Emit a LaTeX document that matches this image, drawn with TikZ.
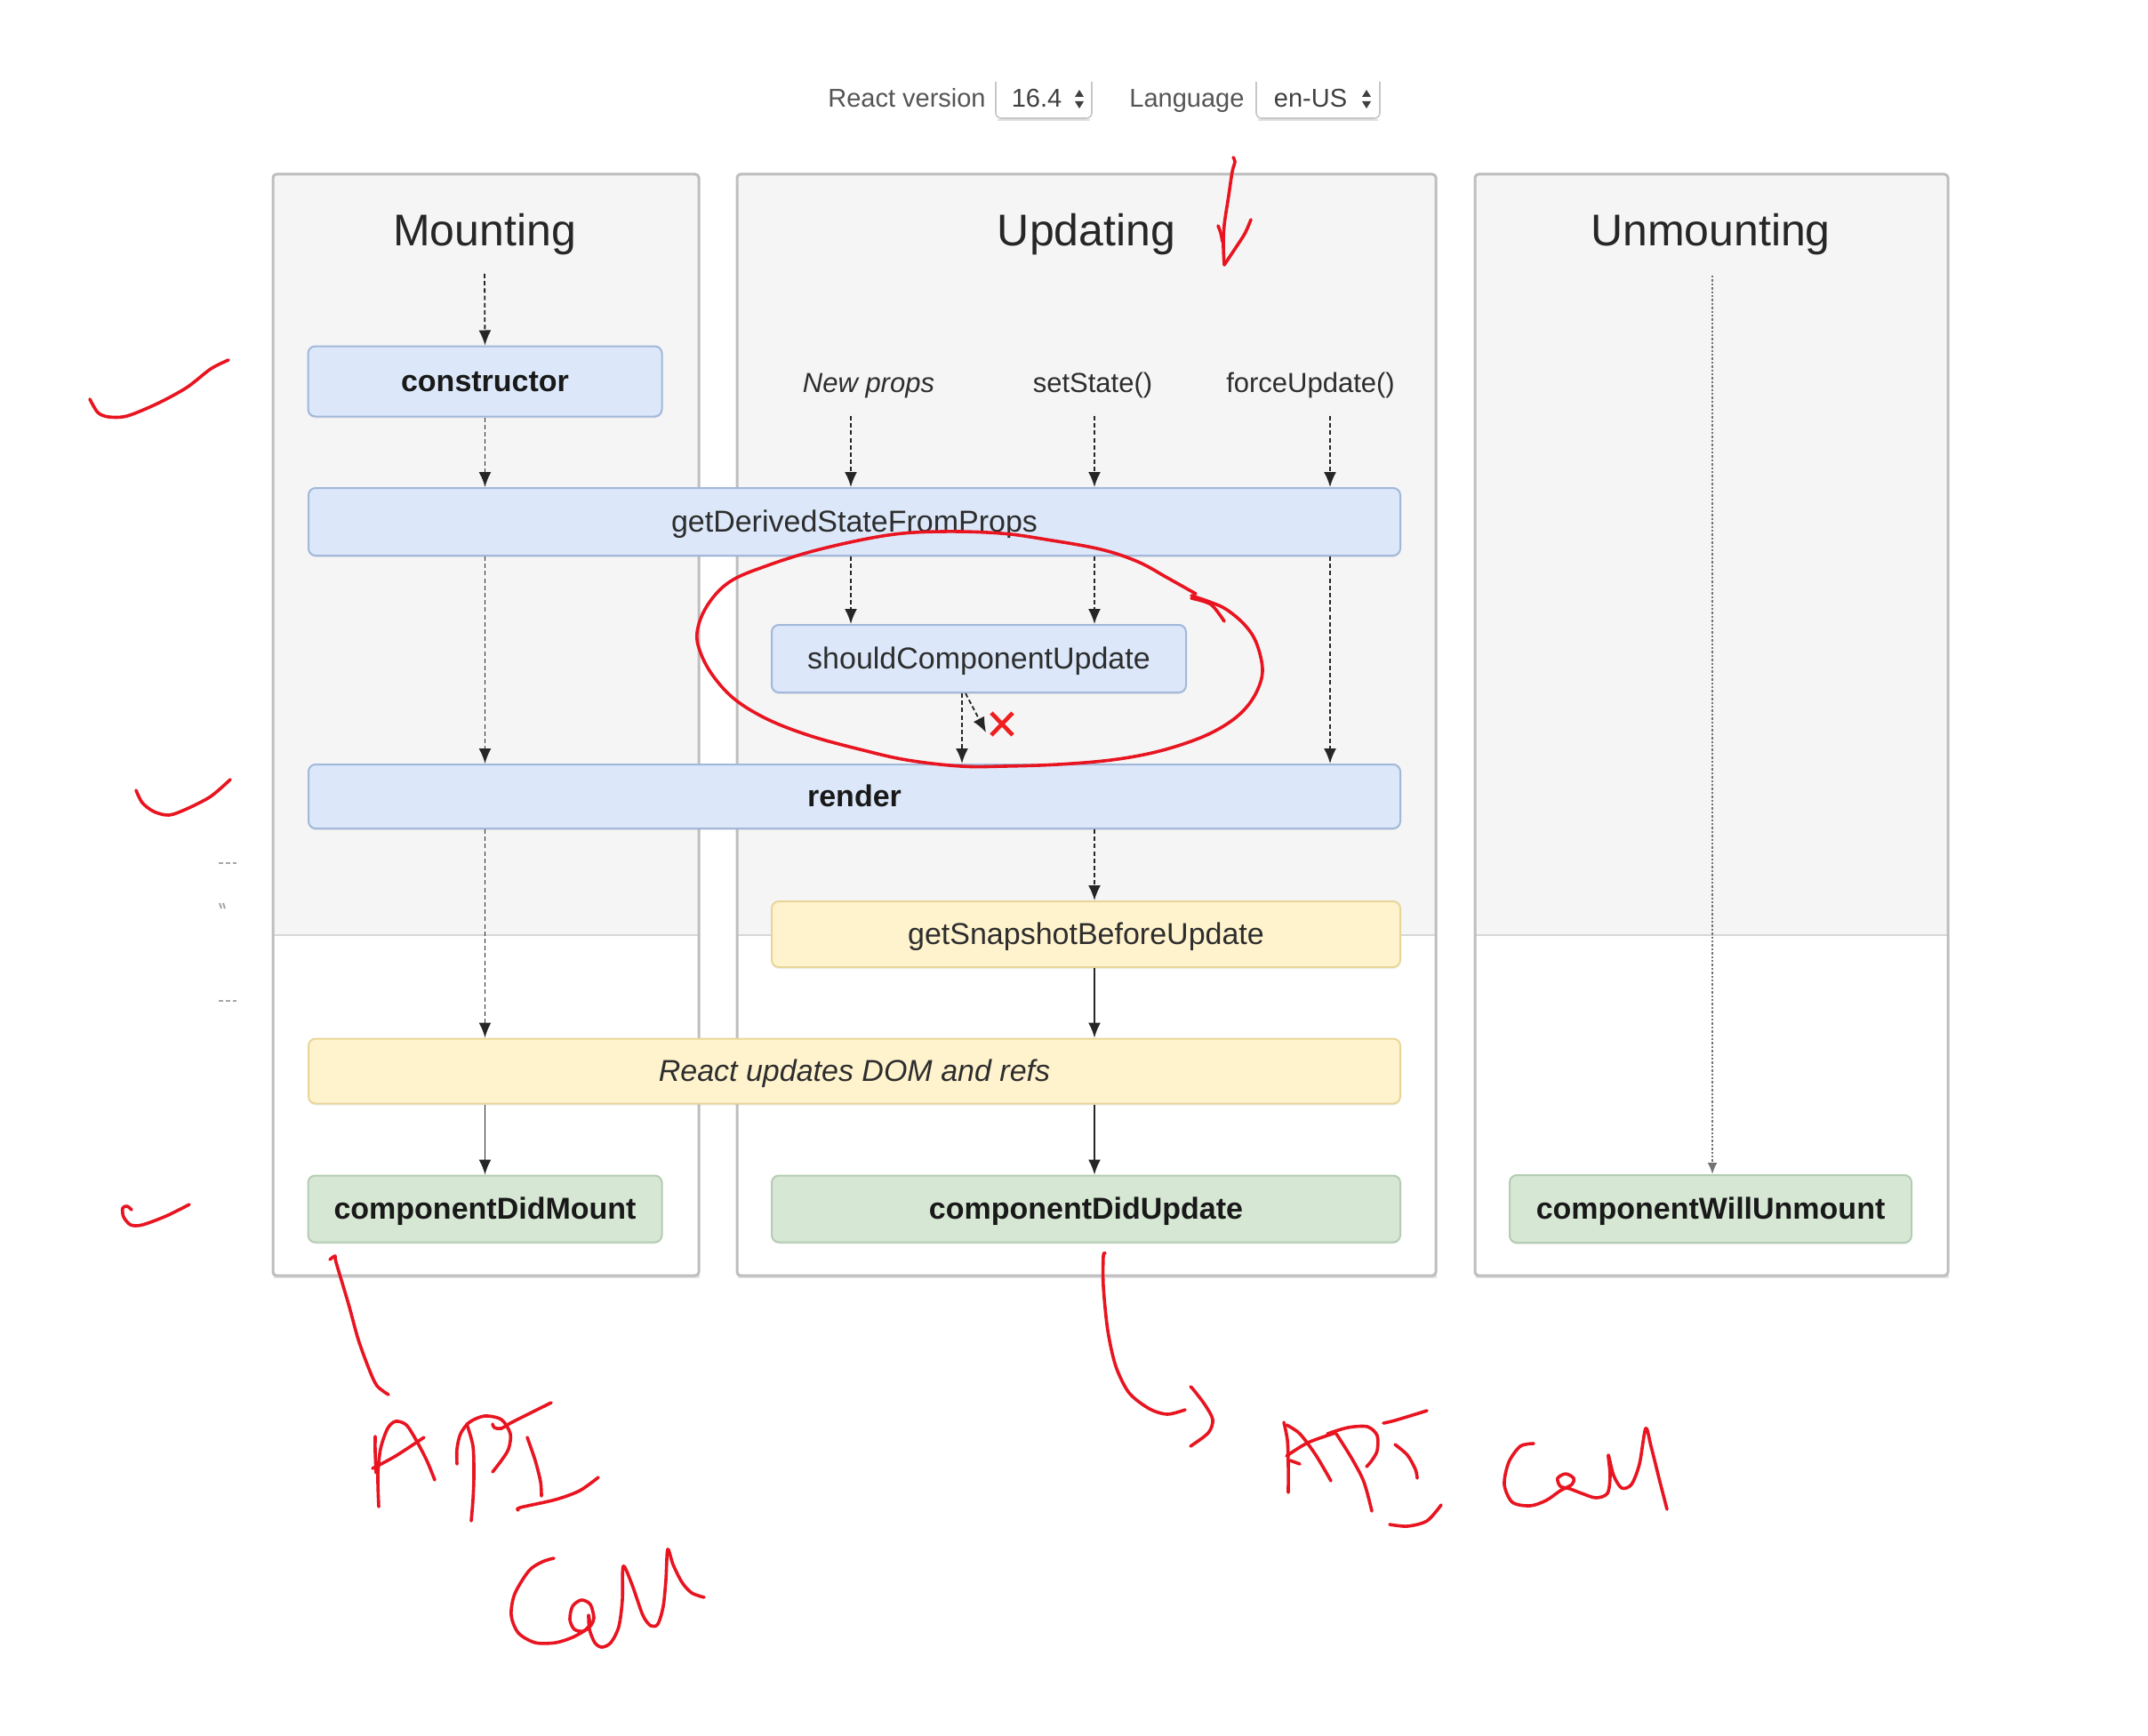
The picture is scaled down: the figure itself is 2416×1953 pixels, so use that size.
\documentclass[tikz,border=0pt]{standalone}
\usepackage{fontspec}
\setmainfont{Liberation Sans}
\usetikzlibrary{arrows.meta,shadows}
\definecolor{panelgray}{RGB}{245,245,245}
\definecolor{panelline}{RGB}{190,190,190}
\definecolor{divline}{RGB}{215,215,215}
\definecolor{bluefill}{RGB}{220,232,250}
\definecolor{blueline}{RGB}{162,184,218}
\definecolor{yelfill}{RGB}{255,243,206}
\definecolor{yelline}{RGB}{232,214,152}
\definecolor{grnfill}{RGB}{214,232,212}
\definecolor{grnline}{RGB}{180,205,178}
\definecolor{penred}{RGB}{232,20,32}
\definecolor{xred}{RGB}{240,30,30}
\definecolor{txt}{RGB}{45,45,45}
\definecolor{hdr}{RGB}{85,85,85}
\newcommand\fsz[1]{\fontsize{#1}{#1}\selectfont}
\begin{document}
\begin{tikzpicture}[x=0.5pt,y=-0.5pt,
  box/.style={rounded corners=4pt, line width=1pt, inner sep=0pt,
    text height=12.5pt, text depth=1.5pt, font=\fsz{17pt}, text=txt,
    drop shadow={opacity=0.12, shadow xshift=0pt, shadow yshift=-1pt}},
  bluebox/.style={box, fill=bluefill, draw=blueline},
  yelbox/.style={box, fill=yelfill, draw=yelline},
  grnbox/.style={box, fill=grnfill, draw=grnline},
  boldtxt/.style={font=\fsz{17pt}\bfseries, text=black!90},
  titletxt/.style={anchor=base, inner sep=0pt, font=\fsz{25pt}, text=black!85},
  lbl/.style={anchor=base, inner sep=0pt, font=\fsz{15.5pt}, text=txt},
  hdrtxt/.style={anchor=base, inner sep=0pt, font=\fsz{14.5pt}, text=hdr},
  dasharrow/.style={-{Latex[length=8.5pt,width=7pt]}, line width=0.9pt,
    dash pattern=on 2.5pt off 1.6pt, black!85},
  solidarrow/.style={-{Latex[length=8.5pt,width=7pt]}, line width=0.9pt, black!85},
  dotarrow/.style={-{Latex[length=6.5pt,width=5.5pt]}, line width=1pt,
    dash pattern=on 1.2pt off 1pt, black!55},
  panelborder/.style={draw=panelline, line width=1.5pt, rounded corners=2pt},
  pen/.style={penred, line width=1.8pt, line cap=round, line join=round},
  selline/.style={draw=gray!45, line width=0.8pt, rounded corners=3pt}
]
\useasboundingbox (0,0) rectangle (2416,1953);
\fill[white] (0,0) rectangle (2416,1953);

% ---------- header ----------
\node[hdrtxt] (h_rv) at (1020,121) {React version};
\draw[selline, fill=white] (1120,92) -- (1120,133) -- (1228,133) -- (1228,92);
\draw[gray!25, line width=1pt] (1122,135) -- (1226,135);
\node[hdrtxt, text=black!75] (h_ver) at (1166,121) {16.4};
\fill[black!75] (1209,109) -- (1219,109) -- (1214,101) -- cycle;
\fill[black!75] (1209,114) -- (1219,114) -- (1214,122) -- cycle;
\node[hdrtxt] (h_lang) at (1335,121) {Language};
\draw[selline, fill=white] (1413,92) -- (1413,133) -- (1552,133) -- (1552,92);
\draw[gray!25, line width=1pt] (1415,135) -- (1550,135);
\node[hdrtxt, text=black!75] (h_loc) at (1474,121) {en-US};
\fill[black!75] (1532,109) -- (1542,109) -- (1537,101) -- cycle;
\fill[black!75] (1532,114) -- (1542,114) -- (1537,122) -- cycle;

% ---------- panels ----------
\foreach \xa/\xb in {307/786, 829/1615, 1659/2191}{
  \path[fill=white, drop shadow={opacity=0.22, shadow xshift=0.5pt, shadow yshift=-1.5pt}]
    (\xa,196) rectangle (\xb,1435);
  \fill[panelgray] (\xa,196) rectangle (\xb,1052);
  \draw[divline, line width=1pt] (\xa,1052) -- (\xb,1052);
  \draw[panelborder] (\xa,196) rectangle (\xb,1435);
}

% ---------- titles and labels ----------
\node[titletxt] (t_mount) at (545,277) {Mounting};
\node[titletxt] (t_update) at (1222,277) {Updating};
\node[titletxt] (t_unmount) at (1924,277) {Unmounting};
\node[lbl, font=\fsz{15.5pt}\itshape] (l_props) at (977,441) {New props};
\node[lbl] (l_state) at (1229,441) {setState()};
\node[lbl] (l_force) at (1474,441) {forceUpdate()};

% ---------- boxes ----------
\node[bluebox, boldtxt, minimum width=199pt, minimum height=39.5pt] (n_const) at (545.5,429) {constructor};
\node[bluebox, minimum width=614pt, minimum height=38pt] (n_gdsfp) at (961,587) {getDerivedStateFromProps};
\node[bluebox, minimum width=233pt, minimum height=38pt] (n_scu) at (1101,741) {shouldComponentUpdate};
\node[bluebox, boldtxt, minimum width=614pt, minimum height=36pt] (n_render) at (961,896) {render};
\node[yelbox, minimum width=353.5pt, minimum height=37pt] (n_gsbu) at (1221.5,1051) {getSnapshotBeforeUpdate};
\node[yelbox, font=\fsz{17pt}\itshape, minimum width=614pt, minimum height=36.5pt] (n_rudom) at (961,1205) {React updates DOM and refs};
\node[grnbox, boldtxt, minimum width=199pt, minimum height=37.5pt] (n_cdm) at (545.5,1360) {componentDidMount};
\node[grnbox, boldtxt, minimum width=353.5pt, minimum height=37.5pt] (n_cdu) at (1221.5,1360) {componentDidUpdate};
\node[grnbox, boldtxt, minimum width=226pt, minimum height=38pt] (n_cwu) at (1924,1360) {componentWillUnmount};

% ---------- connector anchors ----------
\coordinate (m0) at (545,308);
\coordinate (u1) at (957,468);
\coordinate (u2) at (1231,468);
\coordinate (u3) at (1496,468);
\coordinate (s1) at (1082,0);
\coordinate (s2) at (1086,0);
\coordinate (xarr) at (1109,824);
\coordinate (w0) at (1926,310);

% Mounting
\draw[dasharrow] (m0) -- (n_const.north);
\draw[dasharrow] (n_const.south) -- (n_const.south |- n_gdsfp.north);
\draw[dasharrow] (n_const.south |- n_gdsfp.south) -- (n_const.south |- n_render.north);
\draw[dasharrow] (n_const.south |- n_render.south) -- (n_const.south |- n_rudom.north);
\draw[solidarrow] (n_const.south |- n_rudom.south) -- (n_cdm.north);
% Updating
\draw[dasharrow] (u1) -- (u1 |- n_gdsfp.north);
\draw[dasharrow] (u2) -- (u2 |- n_gdsfp.north);
\draw[dasharrow] (u3) -- (u3 |- n_gdsfp.north);
\draw[dasharrow] (u1 |- n_gdsfp.south) -- (u1 |- n_scu.north);
\draw[dasharrow] (u2 |- n_gdsfp.south) -- (u2 |- n_scu.north);
\draw[dasharrow] (u3 |- n_gdsfp.south) -- (u3 |- n_render.north);
\draw[dasharrow] (s1 |- n_scu.south) -- (s1 |- n_render.north);
\draw[dasharrow] (s2 |- n_scu.south) -- (xarr);
\draw[xred, line width=2.3pt] (1115,802) -- (1139,827) (1139,802) -- (1115,827);
\draw[dasharrow] (u2 |- n_render.south) -- (u2 |- n_gsbu.north);
\draw[solidarrow] (u2 |- n_gsbu.south) -- (u2 |- n_rudom.north);
\draw[solidarrow] (u2 |- n_rudom.south) -- (u2 |- n_cdu.north);
% Unmounting
\draw[dotarrow] (w0) -- (w0 |- n_cwu.north);

% ---------- small marks at left ----------
\draw[gray!70, line width=1pt, dash pattern=on 2.5pt off 1.5pt] (246,971) -- (266,971);
\draw[gray!70, line width=1pt] (247,1016) -- (249,1022) (251,1016) -- (253,1022);
\draw[gray!70, line width=1pt, dash pattern=on 2.5pt off 1.5pt] (246,1126) -- (266,1126);

% ---------- red pen annotations ----------
% check marks
\draw[pen] plot[smooth] coordinates {(101,449) (110,464) (122,469) (143,468) (177,454) (210,436) (237,415) (257,405)};
\draw[pen] plot[smooth] coordinates {(153,889) (160,903) (173,913) (190,917) (210,910) (237,896) (259,877)};
\draw[pen] plot[smooth] coordinates {(148,1361) (143,1357) (138,1359) (139,1369) (147,1378) (160,1378) (187,1368) (213,1355)};
% arrow near Updating title
\draw[pen] plot[smooth] coordinates {(1387,177) (1389,182) (1386,193) (1382,220) (1377,253) (1376,277) (1377,298)};
\draw[pen] plot[smooth] coordinates {(1377,298) (1387,283) (1400,263) (1407,247)};
\draw[pen] plot[smooth] coordinates {(1370,254) (1373,262) (1375,272)};
% ellipse round shouldComponentUpdate
\draw[pen] plot[smooth, tension=0.6] coordinates {(1340,670) (1363,678) (1380,686) (1400,703) (1413,723) (1420,753) (1414,777) (1399,799) (1376,817) (1345,832) (1300,846) (1250,855) (1190,860) (1130,862) (1081,862) (1020,855) (967,843) (912,828) (865,810) (828,788) (804,763) (789,737) (784,712) (795,682) (820,655) (861,637) (922,618) (999,602) (1060,598) (1126,600) (1177,607) (1238,618) (1280,632) (1313,650) (1345,668)};
\draw[pen] plot[smooth] coordinates {(1340,673) (1362,680) (1377,699)};
% left API Call
\draw[pen] plot[smooth] coordinates {(371,1417) (377,1413) (378,1420) (392,1467) (403,1507) (415,1540) (424,1559) (437,1569)};
\draw[pen] plot[smooth] coordinates {(426,1695) (425,1660) (428,1630) (436,1607) (445,1599) (457,1603) (468,1620) (480,1643) (489,1665)};
\draw[pen] plot[smooth] coordinates {(422,1616) (422,1633) (423,1657)};
\draw[pen] plot[smooth] coordinates {(419,1652) (445,1638) (477,1617)};
\draw[pen] plot[smooth] coordinates {(525,1602) (532,1627) (533,1660) (532,1687) (530,1711)};
\draw[pen] plot[smooth] coordinates {(514,1647) (514,1630) (518,1613) (528,1600) (545,1593) (564,1597) (574,1613) (572,1630) (564,1643) (554,1656)};
\draw[pen] plot[smooth] coordinates {(554,1602) (556,1606) (564,1607) (576,1600) (620,1578)};
\draw[pen] plot[smooth] coordinates {(593,1617) (602,1643) (608,1667) (609,1683)};
\draw[pen] plot[smooth] coordinates {(583,1699) (585,1696) (625,1687) (652,1677) (673,1662)};
\draw[pen] plot[smooth] coordinates {(623,1753) (610,1757) (595,1767) (579,1793) (575,1817) (583,1837) (602,1848) (625,1848) (644,1842) (660,1833) (665,1828) (668,1820) (664,1805) (654,1800) (644,1807) (641,1822) (646,1833) (656,1835) (663,1828) (662,1817) (663,1833) (669,1848) (677,1853) (687,1848) (696,1830) (700,1800) (701,1762) (711,1783) (723,1817) (732,1829) (740,1827) (746,1807) (749,1777) (751,1743) (757,1760) (767,1780) (778,1792) (792,1797)};
% right API Call
\draw[pen] plot[smooth] coordinates {(1243,1410) (1241,1413) (1241,1447) (1246,1497) (1255,1537) (1270,1567) (1293,1585) (1313,1591) (1333,1586)};
\draw[pen] plot[smooth] coordinates {(1339,1560) (1342,1563) (1355,1580) (1364,1597) (1359,1612) (1339,1627)};
\draw[pen] plot[smooth] coordinates {(1444,1600) (1448,1620) (1449,1647) (1449,1679)};
\draw[pen] plot[smooth] coordinates {(1447,1603) (1462,1613) (1480,1637) (1497,1666)};
\draw[pen] plot[smooth] coordinates {(1447,1638) (1471,1623) (1502,1612)};
\draw[pen] (1451,1643) -- (1462,1647);
\draw[pen] plot[smooth] coordinates {(1503,1613) (1520,1640) (1534,1667) (1543,1700)};
\draw[pen] plot[smooth] coordinates {(1493,1613) (1516,1606) (1538,1605) (1549,1615) (1549,1632) (1543,1643) (1537,1650)};
\draw[pen] plot[smooth] coordinates {(1556,1601) (1569,1598) (1605,1587)};
\draw[pen] plot[smooth] coordinates {(1569,1625) (1583,1637) (1592,1653) (1594,1663)};
\draw[pen] plot[smooth] coordinates {(1563,1715) (1583,1717) (1605,1711) (1621,1693)};
\draw[pen] plot[smooth] coordinates {(1725,1624) (1710,1627) (1697,1645) (1692,1670) (1701,1690) (1721,1694) (1739,1688) (1755,1677) (1768,1670) (1770,1663) (1761,1658) (1752,1663) (1755,1672) (1766,1675) (1779,1680) (1795,1685) (1808,1680) (1811,1660) (1809,1637) (1815,1660) (1824,1674) (1835,1670) (1844,1647) (1851,1607) (1857,1627) (1866,1663) (1875,1698)};
\end{tikzpicture}
\end{document}
